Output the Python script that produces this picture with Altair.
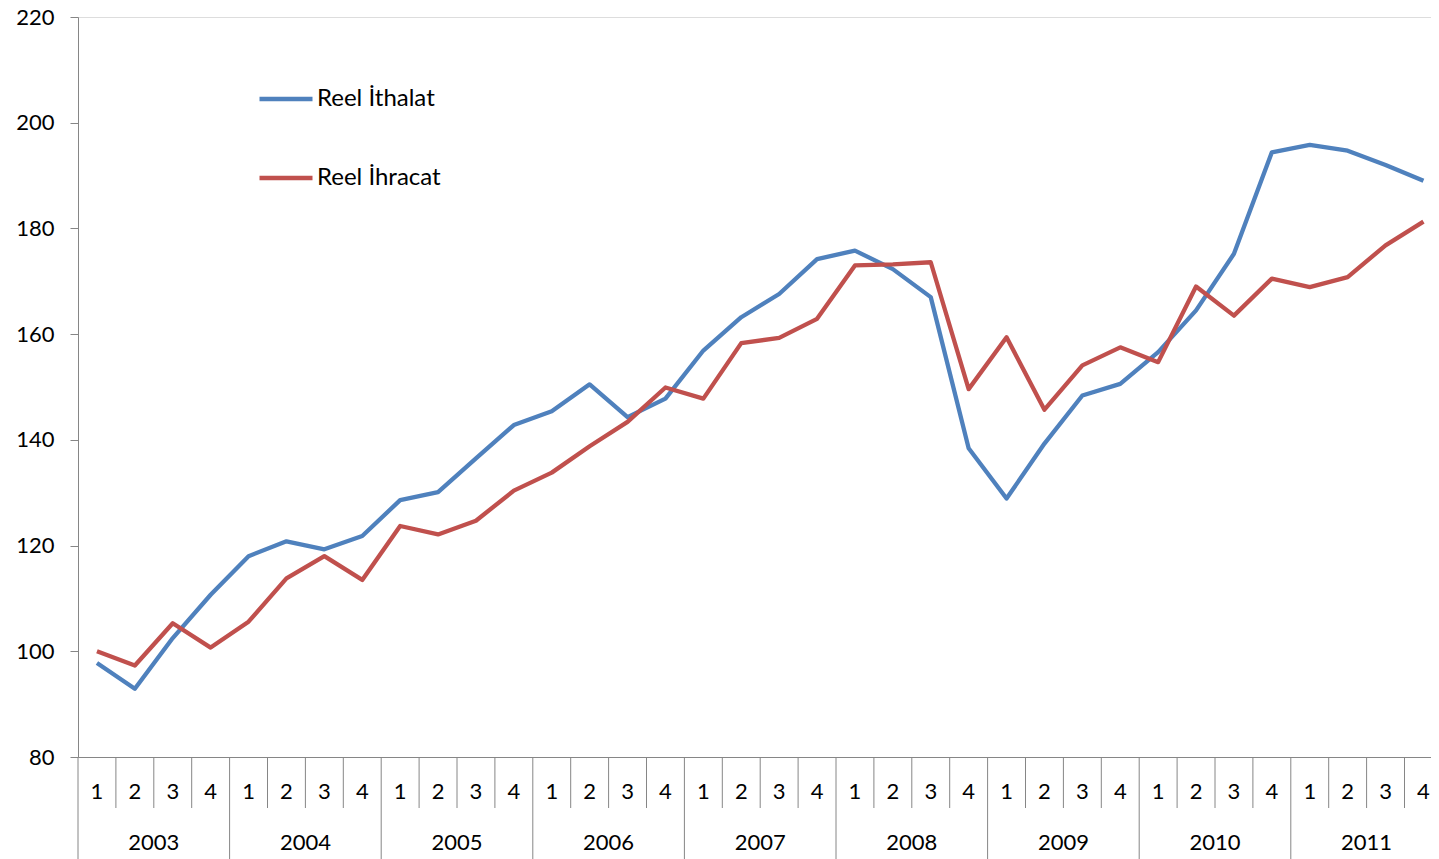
import altair as alt
import pandas as pd

years = ["2003", "2004", "2005", "2006", "2007", "2008", "2009", "2010", "2011"]
quarters = ["1", "2", "3", "4"]

ithalat = [97.8, 92.9, 102.5, 110.7, 118.0, 120.8, 119.3, 121.8,
           128.6, 130.1, 136.5, 142.8, 145.4, 150.5, 144.3, 147.8,
           156.9, 163.2, 167.6, 174.2, 175.8, 172.3, 167.0, 138.4,
           128.9, 139.3, 148.4, 150.6, 156.6, 164.5, 175.2, 194.4,
           195.8, 194.7, 192.0, 189.0]
ihracat = [100.0, 97.3, 105.3, 100.7, 105.6, 113.8, 118.0, 113.5,
           123.7, 122.1, 124.7, 130.4, 133.8, 138.8, 143.4, 149.9,
           147.8, 158.3, 159.3, 162.9, 173.0, 173.2, 173.6, 149.6,
           159.4, 145.7, 154.1, 157.5, 154.7, 169.0, 163.5, 170.5,
           168.9, 170.8, 176.8, 181.3]
series_names = ["Reel İthalat", "Reel İhracat"]
series_colors = ["#4F81BD", "#C0504D"]

rows = []
for name, vals in zip(series_names, [ithalat, ihracat]):
    for i, v in enumerate(vals):
        rows.append({"seri": name, "i": i, "deger": v, "ord": series_names.index(name)})
df = pd.DataFrame(rows)

n = len(years) * len(quarters)
q_df = pd.DataFrame({"i": list(range(n)), "q": [quarters[k % 4] for k in range(n)]})
y_df = pd.DataFrame({"i": [4 * k + 1.5 for k in range(len(years))], "yil": years})
qdiv_df = pd.DataFrame({"b": [k - 0.5 for k in range(n) if k % 4 != 0]})
ydiv_df = pd.DataFrame({"b": [k - 0.5 for k in range(n) if k % 4 == 0]})

FONT = "Lato"
GRAY = "#868686"
W, H = 1353, 740
PT, PB = 9, 102
xscale = alt.Scale(domain=[-0.5, -0.5 + W / 37.9], nice=False, zero=False)

lines = alt.Chart(df).mark_line(strokeWidth=4.3, strokeJoin="round").encode(
    x=alt.X("i:Q", scale=xscale,
            axis=alt.Axis(labels=False, ticks=False, title=None, grid=False,
                          domainColor=GRAY, domainWidth=1)),
    y=alt.Y("deger:Q", scale=alt.Scale(domain=[80, 220], nice=False, zero=False),
            axis=alt.Axis(values=[80, 100, 120, 140, 160, 180, 200, 220], title=None,
                          grid=False, tickSize=8, tickColor=GRAY, domainColor=GRAY,
                          labelFont=FONT, labelFontSize=22, labelColor="black",
                          labelPadding=16)),
    color=alt.Color("seri:N", sort=series_names,
                    scale=alt.Scale(domain=series_names, range=series_colors),
                    legend=alt.Legend(orient="none", legendX=179, legendY=53, title=None,
                                      symbolType="stroke", symbolSize=2809,
                                      symbolStrokeWidth=4.5, labelFont=FONT,
                                      labelFontSize=24, labelColor="black",
                                      labelOffset=2, rowPadding=38, labelLimit=400)),
    order="ord:Q",
)

qlab = alt.Chart(q_df).mark_text(font=FONT, fontSize=22, color="black", baseline="middle").encode(
    x=alt.X("i:Q", scale=xscale), y=alt.value(H + 35), text="q:N")
ylab = alt.Chart(y_df).mark_text(font=FONT, fontSize=22, color="black", baseline="middle").encode(
    x=alt.X("i:Q", scale=xscale), y=alt.value(H + 86), text="yil:N")
qdiv = alt.Chart(qdiv_df).mark_rule(color=GRAY, strokeWidth=1).encode(
    x=alt.X("b:Q", scale=xscale), y=alt.value(H), y2=alt.value(H + 51))
ydiv = alt.Chart(ydiv_df).mark_rule(color=GRAY, strokeWidth=1).encode(
    x=alt.X("b:Q", scale=xscale), y=alt.value(H), y2=alt.value(H + PB))

chart = alt.layer(qdiv, ydiv, qlab, ylab, lines).properties(
    width=W, height=H,
    autosize=alt.AutoSizeParams(type="none"),
    padding={"left": 70, "top": PT, "right": 0, "bottom": PB},
).configure_view(stroke=None).configure(background="white")

chart.save("out.html", embed_options={"renderer": "svg", "actions": False})
